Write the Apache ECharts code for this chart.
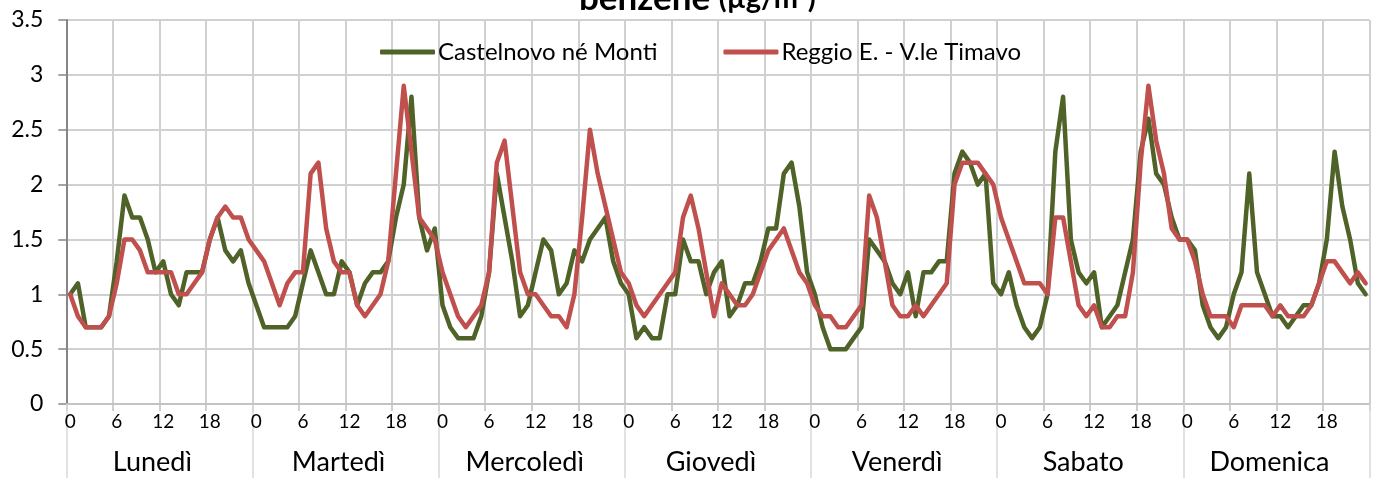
<!DOCTYPE html>
<html>
<head>
<meta charset="utf-8">
<script src="https://cdn.jsdelivr.net/npm/echarts@6/dist/echarts.min.js"></script>
<style>
html,body{margin:0;padding:0;background:#fff;}
#c{width:1375px;height:478px;}
</style>
</head>
<body>
<div id="c"></div>
<script>
const days = ['Lunedì','Martedì','Mercoledì','Giovedì','Venerdì','Sabato','Domenica'];
const hours = [0,1,2,3,4,5,6,7,8,9,10,11,12,13,14,15,16,17,18,19,20,21,22,23];
const yTicks = [0,0.5,1,1.5,2,2.5,3,3.5];
const seriesNames = ['Castelnovo né Monti','Reggio E. - V.le Timavo'];

// Castelnovo né Monti, hourly, Monday..Sunday
const castelnovo = [
  1.0,1.1,0.7,0.7,0.7,0.8,1.3,1.9,1.7,1.7,1.5,1.2,1.3,1.0,0.9,1.2,1.2,1.2,1.5,1.7,1.4,1.3,1.4,1.1,
  0.9,0.7,0.7,0.7,0.7,0.8,1.1,1.4,1.2,1.0,1.0,1.3,1.2,0.9,1.1,1.2,1.2,1.3,1.7,2.0,2.8,1.7,1.4,1.6,
  0.9,0.7,0.6,0.6,0.6,0.8,1.2,2.1,1.7,1.3,0.8,0.9,1.2,1.5,1.4,1.0,1.1,1.4,1.3,1.5,1.6,1.7,1.3,1.1,
  1.0,0.6,0.7,0.6,0.6,1.0,1.0,1.5,1.3,1.3,1.0,1.2,1.3,0.8,0.9,1.1,1.1,1.3,1.6,1.6,2.1,2.2,1.8,1.2,
  1.0,0.7,0.5,0.5,0.5,0.6,0.7,1.5,1.4,1.3,1.1,1.0,1.2,0.8,1.2,1.2,1.3,1.3,2.1,2.3,2.2,2.0,2.1,1.1,
  1.0,1.2,0.9,0.7,0.6,0.7,1.0,2.3,2.8,1.5,1.2,1.1,1.2,0.7,0.8,0.9,1.2,1.5,2.3,2.6,2.1,2.0,1.7,1.5,
  1.5,1.4,0.9,0.7,0.6,0.7,1.0,1.2,2.1,1.2,1.0,0.8,0.8,0.7,0.8,0.9,0.9,1.1,1.5,2.3,1.8,1.5,1.1,1.0
];
// Reggio E. - V.le Timavo, hourly, Monday..Sunday
const reggio = [
  1.0,0.8,0.7,0.7,0.7,0.8,1.1,1.5,1.5,1.4,1.2,1.2,1.2,1.2,1.0,1.0,1.1,1.2,1.5,1.7,1.8,1.7,1.7,1.5,
  1.4,1.3,1.1,0.9,1.1,1.2,1.2,2.1,2.2,1.6,1.3,1.2,1.2,0.9,0.8,0.9,1.0,1.3,2.1,2.9,2.3,1.7,1.6,1.5,
  1.2,1.0,0.8,0.7,0.8,0.9,1.2,2.2,2.4,1.8,1.2,1.0,1.0,0.9,0.8,0.8,0.7,1.0,1.7,2.5,2.1,1.8,1.5,1.2,
  1.1,0.9,0.8,0.9,1.0,1.1,1.2,1.7,1.9,1.6,1.2,0.8,1.1,1.0,0.9,0.9,1.0,1.2,1.4,1.5,1.6,1.4,1.2,1.1,
  0.9,0.8,0.8,0.7,0.7,0.8,0.9,1.9,1.7,1.3,0.9,0.8,0.8,0.9,0.8,0.9,1.0,1.1,2.0,2.2,2.2,2.2,2.1,2.0,
  1.7,1.5,1.3,1.1,1.1,1.1,1.0,1.7,1.7,1.3,0.9,0.8,0.9,0.7,0.7,0.8,0.8,1.2,2.2,2.9,2.4,2.1,1.6,1.5,
  1.5,1.3,1.0,0.8,0.8,0.8,0.7,0.9,0.9,0.9,0.9,0.8,0.9,0.8,0.8,0.8,0.9,1.1,1.3,1.3,1.2,1.1,1.2,1.1
];

const categories = [];
days.forEach(d => hours.forEach(h => categories.push(d + '|' + h)));
const every6 = (idx) => idx % 6 === 0;
const FONT = 'Lato';
const GREEN = '#4F6228', RED = '#C0504D';

const chart = echarts.init(document.getElementById('c'));
chart.setOption({
  animation: false,
  backgroundColor: '#ffffff',
  title: {
    text: '{a|benzene }{b|(µg/m³)}',
    left: 574,
    top: -24,
    textStyle: {
      rich: {
        a: {fontFamily: FONT, fontWeight: 'bold', fontSize: 35, color: '#000'},
        b: {fontFamily: FONT, fontWeight: 'bold', fontSize: 29, color: '#000'}
      }
    }
  },
  legend: {
    data: seriesNames,
    left: 375,
    top: 35,
    icon: 'roundRect',
    itemWidth: 55,
    itemHeight: 5,
    itemGap: 66,
    textStyle: {fontFamily: FONT, fontSize: 24, color: '#000', padding: [0, 0, 0, -2]}
  },
  grid: {left: 66.3, right: 5.5, top: 20, bottom: 74, containLabel: false},
  xAxis: [
    {
      type: 'category',
      data: categories,
      boundaryGap: true,
      axisLine: {show: true, lineStyle: {color: '#bfbfbf', width: 1.5}},
      axisTick: {show: true, interval: every6, length: 7, lineStyle: {color: '#bfbfbf', width: 1.5}},
      axisLabel: {
        interval: every6,
        formatter: v => v.split('|')[1],
        margin: 8,
        fontFamily: FONT, fontSize: 19, color: '#000'
      },
      splitLine: {show: true, interval: every6, lineStyle: {color: '#d0d0d0', width: 2}}
    },
    {
      type: 'category',
      data: days,
      position: 'bottom',
      boundaryGap: true,
      axisLine: {show: false},
      axisTick: {show: true, length: 74, lineStyle: {color: '#d9d9d9', width: 1.5}},
      axisLabel: {margin: 45, fontFamily: FONT, fontSize: 27, color: '#000', padding: [0, 14, 0, 0]},
      splitLine: {show: false}
    }
  ],
  yAxis: {
    type: 'value',
    min: yTicks[0],
    max: yTicks[yTicks.length - 1],
    interval: 0.5,
    axisLine: {show: true, lineStyle: {color: '#868686', width: 2}},
    axisTick: {show: true, length: 8, lineStyle: {color: '#868686', width: 1.5}},
    axisLabel: {margin: 23, fontFamily: FONT, fontSize: 23, color: '#000'},
    splitLine: {show: true, lineStyle: {color: '#d0d0d0', width: 2}}
  },
  series: [
    {
      name: seriesNames[0], type: 'line', data: castelnovo, symbol: 'none',
      lineStyle: {color: GREEN, width: 4.5, join: 'round', cap: 'round'},
      itemStyle: {color: GREEN}
    },
    {
      name: seriesNames[1], type: 'line', data: reggio, symbol: 'none',
      lineStyle: {color: RED, width: 4.5, join: 'round', cap: 'round'},
      itemStyle: {color: RED}
    }
  ]
});
</script>
</body>
</html>
